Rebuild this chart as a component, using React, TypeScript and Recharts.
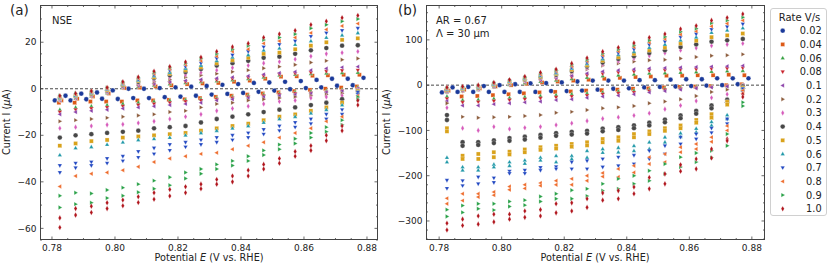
import React from 'react';
import { ScatterChart, Scatter, XAxis, YAxis, ReferenceLine } from 'recharts';

// ---------- data ----------
const RATES = ['0.02', '0.04', '0.06', '0.08', '0.1', '0.2', '0.3', '0.4', '0.5', '0.6', '0.7', '0.8', '0.9', '1.0'];
const STEPS = [0.7825, 0.7875, 0.7925, 0.7975, 0.8025, 0.8074, 0.8124, 0.8174, 0.8224, 0.8273, 0.8323, 0.8373, 0.8423, 0.8472, 0.8522, 0.8572, 0.8622, 0.8671, 0.8721, 0.8771];
// potential shift of the cathodic / anodic samples for each rate
const LOW_SHIFT = [-0.0016, -0.0003, 0, 0, 0, 0, 0, 0, 0, 0, 0, 0, 0, 0];
const UP_SHIFT = [0.0018, 0.0005, 0, 0, 0, 0, 0, 0, 0, 0, 0, 0, 0, 0];

const X_TICKS = [0.78, 0.8, 0.82, 0.84, 0.86, 0.88];
const X_TICK_LABELS = ['0.78', '0.80', '0.82', '0.84', '0.86', '0.88'];
const YA_TICKS = [-60, -40, -20, 0, 20];
const YA_TICK_LABELS = ['\u221260', '\u221240', '\u221220', '0', '20'];
const YB_TICKS = [-300, -200, -100, 0, 100];
const YB_TICK_LABELS = ['\u2212300', '\u2212200', '\u2212100', '0', '100'];

// Panel (a) NSE: cathodic (lower) current per step, one row per rate
const A_LOWER = [
  [-5, -5, -4.5, -4.3, -4.4, -4, -4, -3.6, -3.4, -3, -2.5, -2.2, -1.8, -1.3, -0.8, -0.2, 0.3, 0.6, 1.3, 1.5],
  [-6, -6, -5.5, -5.5, -5.5, -5, -5, -4.8, -4.5, -4, -3.5, -3, -2.5, -2, -1.5, -1, -0.5, 0, 0.5, 1],
  [-9, -8, -7.5, -7, -6.5, -6, -5.5, -5, -4.8, -4.5, -4, -3.5, -3, -2.5, -2, -1.5, -1.2, -1, -0.5, 0.5],
  [-10, -9, -8.5, -8, -7.5, -7, -6.5, -6, -5.5, -5, -4.5, -4, -3.5, -3, -2.5, -2, -1.8, -1.5, -1, 0],
  [-11, -10, -9.5, -9, -8.5, -8, -7.5, -7, -6.5, -6, -5, -4.5, -4, -3.5, -3, -2.5, -2, -1.5, -1, 0],
  [-14, -13.5, -13, -12.5, -12, -11.5, -11, -10, -9.5, -8, -6.5, -6, -5, -4.5, -4, -3.5, -3, -2.5, -2, -0.5],
  [-17, -16.5, -16, -15.5, -15.3, -14.7, -14, -13, -12, -11, -9.5, -8.5, -7.5, -6.5, -5.5, -5, -4, -3.5, -3, -1],
  [-21, -20, -19.5, -19, -18.5, -18, -17, -16.5, -16, -14.5, -13, -12, -11, -10, -9, -8, -7, -6, -4.5, -1],
  [-24.5, -23.5, -22.5, -22, -21, -20.5, -20, -19.5, -19, -18, -17, -16, -15, -13.5, -12, -11, -9.5, -8, -6, -1],
  [-28.5, -25.5, -25, -24, -23, -22, -21.5, -21, -20, -19, -18, -17, -16, -14.5, -13, -12, -10.5, -9, -7, -1.5],
  [-33, -32, -31.5, -30, -29, -27, -25.5, -24, -23, -22, -21, -20, -19, -17.5, -16, -14.5, -13, -11, -9, -1.5],
  [-42, -37.5, -36.5, -36, -35, -33.5, -31.5, -30, -29, -28, -27.5, -26, -24.5, -23, -21, -19, -17, -14, -12, -3],
  [-46, -44.7, -45, -43.5, -42.5, -41, -39.5, -38, -36, -34.5, -32.5, -31, -29, -26.5, -24, -21.5, -19, -16.5, -13.5, -3.5],
  [-55.5, -51.5, -50.5, -49, -47.8, -46.4, -44.7, -43.3, -42.1, -41, -39, -37.5, -35, -32.5, -30, -27, -24.5, -20, -16, -5],
];
// Panel (a): second (deeper) cathodic sample, only where it is visible
const A_LOWER2 = [
  null, null, null, null, null, null, null, null, null, null,
  [-36, -34, -33, -32, -31, -29.5, -28, -26.5, -25, -24, -23, -22, -21, -19.5, -18, -16.5, -15, -13, -11, -2.5],
  null,
  [-51, -49.6, -49, -47, -46, -44.5, -43, -41.5, -38.6, -36.5, -34.5, -33, -31, -28.5, -26, -23.5, -21, -18.5, -15.5, -4.5],
  [-59.6, -54.3, -53.2, -51.5, -50.3, -48.9, -47.5, -46.1, -44.7, -43, -41, -40, -37.5, -34.5, -32, -29, -26.5, -22.3, -18, -7],
];
// Panel (a) NSE: anodic (upper) current per step
const A_UPPER = [
  [-3, -2.1, -1.6, -0.7, 0, 0, 0.3, 0.6, 0.9, 1.2, 1.7, 2, 2.5, 2.7, 3, 3.3, 3.8, 4.3, 4.3, 4.7],
  [-5, -4.3, -3.3, -2, 0.3, 0.5, 1, 1.5, 2, 2.3, 2.5, 3, 3.5, 4.3, 5.2, 5.4, 5.6, 5.8, 6, 6],
  [-5, -4.2, -3.2, -1.8, 0.4, 1, 1.5, 2.1, 2.6, 3, 3.3, 3.8, 4.3, 5, 5.8, 6.1, 6.4, 6.7, 6.9, 7],
  [-5, -4, -3, -1.6, 0.5, 1.2, 1.8, 2.5, 3, 3.4, 3.8, 4.3, 4.8, 5.5, 6.2, 6.6, 7, 7.5, 7.8, 8],
  [-5, -4, -3, -1.5, 0.6, 1.5, 2.2, 3, 3.5, 4, 4.5, 5, 5.5, 6.2, 6.8, 7.3, 8, 8.7, 9.2, 9.5],
  [-4.5, -3.5, -2.7, -1.2, 1, 2, 3, 4, 5, 5.8, 6.5, 7.3, 8, 8.8, 9.5, 10.3, 11.3, 12, 12.5, 13],
  [-4.5, -3.5, -2.5, -1, 1.2, 2.5, 3.8, 5, 6, 7, 8, 9, 10, 11, 11.6, 12.7, 14, 15, 15.5, 16],
  [-4, -3.2, -2.2, -0.7, 1.5, 3, 4.5, 5.8, 7.2, 8.5, 10, 11, 12, 13.3, 13.8, 15, 16.5, 17.5, 18.5, 18.7],
  [-4, -3, -2, -0.5, 1.8, 3.4, 5, 6.5, 8, 9.3, 11, 12.3, 13.3, 15, 15.5, 17, 18.5, 20, 21, 21.7],
  [-4, -3, -1.8, -0.2, 2, 3.7, 5.5, 7, 8.7, 10, 12, 13.5, 14.5, 16.5, 17.4, 19, 20.5, 22, 23, 24],
  [-3.5, -2.5, -1.5, 0, 2.2, 4, 6, 7.8, 9.5, 11, 13, 14.5, 16, 18, 19, 20.5, 22.5, 24, 25, 26],
  [-3.5, -2.5, -1.2, 0.3, 2.5, 4.5, 6.5, 8.5, 10.3, 12, 14, 16, 17, 19.5, 20.5, 22, 24, 25.5, 27, 28],
  [-3, -2, -1, 0.5, 2.8, 4.8, 7, 9, 11, 13, 15, 17, 18.5, 21, 22, 23.5, 26, 27.5, 29, 30],
  [-3, -2, -1, 0.5, 3, 5, 7.5, 9.5, 11.5, 13.5, 16, 18, 19.5, 22, 23.5, 25, 27.5, 29, 30.5, 31.5],
];
// Panel (b) AR = 0.67: cathodic (lower) current per step
const B_LOWER = [
  [-16, -15, -15, -15, -15, -15, -15, -13, -13, -12, -10, -8, -7, -5, -4, -3, -2, -1, 0, 2],
  [-12, -25, -24, -22, -20, -18, -16, -15, -14, -12, -11, -10, -8, -7, -5, -4, -3, -2, 0, 2],
  [-25, -33, -32, -30, -28, -26, -24, -22, -20, -18, -16, -14, -12, -10, -8, -6, -4, -3, -2, 0],
  [-30, -38, -37, -35, -33, -31, -29, -27, -25, -23, -20, -18, -16, -13, -10, -8, -6, -4, -2, 0],
  [-35, -45, -45, -42, -40, -38, -36, -33, -31, -28, -25, -23, -20, -16, -13, -10, -7, -5, -3, 0],
  [-40, -70, -72, -71, -70, -68, -66, -61, -59, -55, -51, -49, -46, -40, -36, -31, -24, -15, -10, -2],
  [-50, -95, -100, -92, -97, -94, -92, -88, -84, -79, -74, -71, -67, -62, -53, -45, -35, -28, -20, -3],
  [-66, -126, -126, -122, -117, -114, -110, -106, -103, -101, -96, -93, -89, -83, -76, -67, -57, -45, -32, -3],
  [-95, -156, -152, -148, -147, -142, -137, -134, -130, -126, -119, -115, -108, -102, -95, -89, -77, -64, -37, -6],
  [-160, -181, -181, -175, -170, -166, -160, -156, -156, -145, -141, -138, -134, -126, -115, -106, -96, -81, -66, -8],
  [-210, -211, -203, -205, -190, -188, -182, -180, -170, -167, -163, -159, -155, -145, -134, -115, -108, -95, -75, -8],
  [-250, -240, -240, -236, -224, -220, -216, -211, -207, -200, -194, -185, -178, -159, -152, -137, -130, -115, -90, -12],
  [-275, -266, -262, -262, -257, -254, -246, -240, -232, -229, -218, -207, -200, -189, -174, -159, -150, -145, -108, -38],
  [-305, -296, -289, -285, -285, -278, -275, -262, -260, -251, -238, -233, -225, -204, -196, -176, -163, -141, -119, -20],
];
// Panel (b): second (deeper) cathodic sample, only where it is visible
const B_LOWER2 = [
  null, null, null, null, null, null, null,
  [-77, -134, -132, -128, -123, -120, -116, -112, -109, -107, -102, -99, -95, -89, -82, -73, -63, -51, -38, -7],
  [-102, -163, -163, -159, -153, -148, -143, -140, -136, -133, -126, -123, -115, -108, -101, -95, -83, -72, -43, -10],
  [-170, -188, -188, -181, -178, -173, -166, -170, -163, -160, -149, -148, -145, -141, -126, -114, -104, -89, -74, -12],
  [-228, -222, -218, -215, -195, -195, -188, -185, -185, -185, -181, -178, -174, -163, -152, -130, -119, -105, -85, -14],
  [-262, -255, -247, -243, -231, -228, -222, -220, -220, -211, -202, -203, -193, -174, -170, -148, -141, -125, -100, -18],
  [-290, -281, -273, -276, -268, -265, -257, -251, -251, -245, -233, -229, -218, -211, -196, -181, -170, -160, -134, -46],
  [-320, -310, -307, -302, -296, -292, -289, -282, -278, -270, -254, -251, -240, -229, -218, -190, -185, -161, -123, -26],
];
// Panel (b) AR = 0.67: anodic (upper) current per step
const B_UPPER = [
  [-5, -4, -2, 0, 2, 4, 4.5, 6, 8, 10, 10, 10, 11, 11, 12, 13, 13, 15, 15, 15],
  [-12, -10, -7, -3, 0, 3, 6, 8, 10, 12, 14, 16, 18, 19, 21, 21, 22, 22, 23, 22],
  [-15, -13, -10, -4, 1, 5, 8, 11, 14, 17, 20, 22, 24, 26, 27, 28, 29, 30, 31, 32],
  [-15, -13, -10, -4, 2, 7, 10, 14, 18, 22, 25, 28, 30, 32, 33, 34, 35, 36, 37, 38],
  [-14, -12, -9, -3, 3, 8, 12, 16, 21, 26, 30, 33, 35, 37, 38, 39, 40, 41, 42, 43],
  [-13, -11, -8, -2, 4, 10, 15, 20, 27, 35, 43, 48, 52, 55, 56, 59, 62, 65, 66, 68],
  [-12, -10, -7, -1, 5, 11, 16, 21, 29, 38, 46, 53, 59, 65, 71, 77, 82, 87, 90, 92],
  [-11, -9, -6, 0, 6, 12, 18, 23, 31, 41, 50, 58, 64, 71, 77, 84, 90, 96, 99, 102],
  [-10, -8, -5, 1, 7, 13, 19, 25, 34, 44, 54, 62, 69, 77, 83, 92, 98, 106, 110, 114],
  [-9, -7, -4, 2, 8, 14, 21, 27, 37, 47, 58, 67, 74, 83, 90, 99, 106, 116, 121, 126],
  [-8, -6, -3, 3, 9, 15, 22, 29, 39, 50, 62, 71, 79, 89, 96, 106, 113, 123, 129, 135],
  [-7, -5, -2, 4, 10, 16, 24, 31, 42, 53, 66, 75, 84, 94, 102, 112, 119, 130, 136, 143],
  [-6, -4, -1, 5, 11, 17, 26, 33, 45, 56, 70, 79, 88, 99, 107, 118, 125, 137, 143, 150],
  [-5, -3, 0, 6, 12, 19, 28, 35, 48, 60, 74, 83, 93, 105, 113, 124, 131, 143, 149, 157],
];

// ---------- styles ----------
const COLORS = ['#1b3a9a', '#dd5a17', '#35a040', '#c8202a', '#8a3fa8', '#8b5a3a', '#d65bbb', '#474747', '#d9a21b', '#1f98a8', '#1f46c1', '#ee6b2b', '#27a046', '#b0141c'];
const SHAPES = ['o', 's', '^', 'v', '<', '>', 'd', 'o', 's', '^', 'v', '<', '>', 'd'];
const FONT = '"DejaVu Sans", Verdana, sans-serif';
const TEXT = '#222';
const AXC = '#444';

function marker(kind: string, cx: number, cy: number, color: string) {
  const st = { fill: color, stroke: '#ffffff', strokeWidth: 0.4, strokeOpacity: 0.7 };
  if (cx == null || cy == null || isNaN(cx) || isNaN(cy)) return <g />;
  const a = 2.4;
  const b = 1.5;
  const w = 2.2;
  switch (kind) {
    case 'o':
      return <circle cx={cx} cy={cy} r={2.4} {...st} />;
    case 's':
      return <rect x={cx - 2} y={cy - 2} width={4} height={4} {...st} />;
    case '^':
      return <polygon points={`${cx},${cy - a} ${cx - w},${cy + b} ${cx + w},${cy + b}`} {...st} />;
    case 'v':
      return <polygon points={`${cx},${cy + a} ${cx - w},${cy - b} ${cx + w},${cy - b}`} {...st} />;
    case '<':
      return <polygon points={`${cx - a},${cy} ${cx + b},${cy - w} ${cx + b},${cy + w}`} {...st} />;
    case '>':
      return <polygon points={`${cx + a},${cy} ${cx - b},${cy - w} ${cx - b},${cy + w}`} {...st} />;
    default:
      return <polygon points={`${cx},${cy - 2.8} ${cx + 1.6},${cy} ${cx},${cy + 2.8} ${cx - 1.6},${cy}`} {...st} />;
  }
}

function buildSeries(lower: number[][], lower2: (number[] | null)[], upper: number[][]) {
  return RATES.map((rate, i) => {
    const pts: { x: number; y: number }[] = [];
    const l2 = lower2[i];
    STEPS.forEach((x, k) => {
      pts.push({ x: x + LOW_SHIFT[i], y: lower[i][k] });
      if (l2) pts.push({ x: x + LOW_SHIFT[i], y: l2[k] });
      pts.push({ x: x + UP_SHIFT[i], y: upper[i][k] });
    });
    return { rate, pts, color: COLORS[i], shape: SHAPES[i] };
  });
}

function rangeTicks(lo: number, hi: number, step: number) {
  const out: number[] = [];
  const a = Math.ceil(lo / step - 1e-9);
  const b = Math.floor(hi / step + 1e-9);
  for (let i = a; i <= b; i++) out.push(Math.round(i * step * 10000) / 10000);
  return out;
}

type PanelProps = {
  left: number;
  width: number;
  plotL: number;
  plotR: number;
  xDomain: [number, number];
  yDomain: [number, number];
  yMinor: number;
  yTicks: number[];
  yLabels: string[];
  lower: number[][];
  lower2: (number[] | null)[];
  upper: number[][];
};

const PT = 5;
const PB = 240;
const CH = 268;

function Panel(p: PanelProps) {
  const series = buildSeries(p.lower, p.lower2, p.upper);
  const xt = rangeTicks(0.78, 0.88, 0.005);
  const yt = rangeTicks(p.yDomain[0], p.yDomain[1], p.yMinor);
  const majorIdx = (arr: number[], v: number) => arr.findIndex((m) => Math.abs(m - v) < 1e-7);

  const renderXTick = (props: any) => {
    const x = props.x;
    const v = props.payload ? props.payload.value : 0;
    const mi = majorIdx(X_TICKS, v);
    const len = mi >= 0 ? 3.5 : 2;
    return (
      <g>
        <line x1={x} x2={x} y1={PB} y2={PB - len} stroke={AXC} strokeWidth={0.8} />
        <line x1={x} x2={x} y1={PT} y2={PT + len} stroke={AXC} strokeWidth={0.8} />
        {mi >= 0 && (
          <text x={x} y={PB + 11} textAnchor="middle" fontSize={9} fontFamily={FONT} fill={TEXT}>
            {X_TICK_LABELS[mi]}
          </text>
        )}
      </g>
    );
  };
  const renderYTick = (props: any) => {
    const y = props.y;
    const v = props.payload ? props.payload.value : 0;
    const mi = majorIdx(p.yTicks, v);
    const len = mi >= 0 ? 3.5 : 2;
    return (
      <g>
        <line x1={p.plotL} x2={p.plotL + len} y1={y} y2={y} stroke={AXC} strokeWidth={0.8} />
        <line x1={p.plotR} x2={p.plotR - len} y1={y} y2={y} stroke={AXC} strokeWidth={0.8} />
        {mi >= 0 && (
          <text x={p.plotL - 3.5} y={y + 3.2} textAnchor="end" fontSize={9} fontFamily={FONT} fill={TEXT}>
            {p.yLabels[mi]}
          </text>
        )}
      </g>
    );
  };

  return (
    <div style={{ position: 'absolute', left: p.left, top: 0, width: p.width, height: CH }}>
      <ScatterChart
        width={p.width}
        height={CH}
        margin={{ top: PT, bottom: CH - PB - 1, left: p.plotL - 1, right: p.width - p.plotR }}
      >
        <XAxis
          type="number"
          dataKey="x"
          domain={p.xDomain}
          allowDataOverflow
          ticks={xt}
          interval={0}
          height={1}
          tickSize={1}
          tickMargin={0}
          axisLine={false}
          tickLine={false}
          tick={renderXTick}
        />
        <YAxis
          type="number"
          dataKey="y"
          domain={p.yDomain}
          allowDataOverflow
          ticks={yt}
          interval={0}
          width={1}
          tickSize={1}
          tickMargin={0}
          axisLine={false}
          tickLine={false}
          tick={renderYTick}
        />
        <ReferenceLine y={0} stroke="#333" strokeWidth={0.9} strokeDasharray="3 2" />
        {series.map((s) => (
          <Scatter
            key={s.rate}
            name={s.rate}
            data={s.pts}
            isAnimationActive={false}
            shape={(sp: any) => marker(s.shape, sp.cx, sp.cy, s.color)}
          />
        ))}
      </ScatterChart>
      <div
        style={{
          position: 'absolute',
          left: p.plotL,
          top: PT,
          width: p.plotR - p.plotL,
          height: PB - PT,
          border: `1px solid ${AXC}`,
          boxSizing: 'border-box',
          pointerEvents: 'none',
        }}
      />
    </div>
  );
}

function Txt(props: { x: number; y: number; size: number; children: any; rotate?: boolean; anchor?: 'start' | 'middle' }) {
  const tr = props.rotate
    ? 'translate(-50%, -50%) rotate(-90deg)'
    : props.anchor === 'middle'
    ? 'translate(-50%, -50%)'
    : 'translate(0, -50%)';
  return (
    <div
      style={{
        position: 'absolute',
        left: props.x,
        top: props.y,
        transform: tr,
        whiteSpace: 'nowrap',
        fontSize: props.size,
        fontFamily: FONT,
        color: TEXT,
        lineHeight: 1,
      }}
    >
      {props.children}
    </div>
  );
}

function Legend() {
  const rowH = 13.7;
  return (
    <div
      style={{
        position: 'absolute',
        left: 770,
        top: 8,
        width: 57,
        height: 208,
        border: '1px solid #d0d0d0',
        borderRadius: 3,
        boxSizing: 'border-box',
        background: '#fff',
      }}
    >
      <svg width={57} height={208} style={{ position: 'absolute', left: -1, top: -1 }}>
        <text x={29.5} y={12.5} textAnchor="middle" fontSize={10} fontFamily={FONT} fill={TEXT}>
          Rate V/s
        </text>
        {RATES.map((r, i) => {
          const cy = 22.7 + rowH * i;
          return (
            <g key={r}>
              {marker(SHAPES[i], 12.7, cy, COLORS[i])}
              <text x={51.7} y={cy + 3.5} textAnchor="end" fontSize={9.8} fontFamily={FONT} fill={TEXT}>
                {r}
              </text>
            </g>
          );
        })}
      </svg>
    </div>
  );
}

export default function App() {
  return (
    <div style={{ position: 'absolute', left: 0, top: 0, width: 830, height: 268, background: '#fff', overflow: 'hidden' }}>
      <Panel
        left={0}
        width={395}
        plotL={40}
        plotR={378}
        xDomain={[0.7762, 0.8835]}
        yDomain={[-65, 36]}
        yMinor={5}
        yTicks={YA_TICKS}
        yLabels={YA_TICK_LABELS}
        lower={A_LOWER}
        lower2={A_LOWER2}
        upper={A_UPPER}
      />
      <Panel
        left={380}
        width={420}
        plotL={46}
        plotR={385}
        xDomain={[0.7758, 0.8842]}
        yDomain={[-342, 177]}
        yMinor={20}
        yTicks={YB_TICKS}
        yLabels={YB_TICK_LABELS}
        lower={B_LOWER}
        lower2={B_LOWER2}
        upper={B_UPPER}
      />
      <Legend />
      <Txt x={10} y={11} size={13.5}>(a)</Txt>
      <Txt x={398} y={11} size={13.5}>(b)</Txt>
      <Txt x={52} y={21} size={10}>NSE</Txt>
      <Txt x={436} y={21} size={10}>AR = 0.67</Txt>
      <Txt x={436} y={34} size={10}>{'\u039B = 30 \u03BCm'}</Txt>
      <Txt x={209} y={258} size={9.7} anchor="middle">
        Potential <i>E</i> (V vs. RHE)
      </Txt>
      <Txt x={595} y={258} size={9.7} anchor="middle">
        Potential <i>E</i> (V vs. RHE)
      </Txt>
      <Txt x={7} y={122} size={9.7} rotate>
        Current I (<i>{'\u03BC'}</i>A)
      </Txt>
      <Txt x={387} y={122} size={9.7} rotate>
        Current I (<i>{'\u03BC'}</i>A)
      </Txt>
    </div>
  );
}
